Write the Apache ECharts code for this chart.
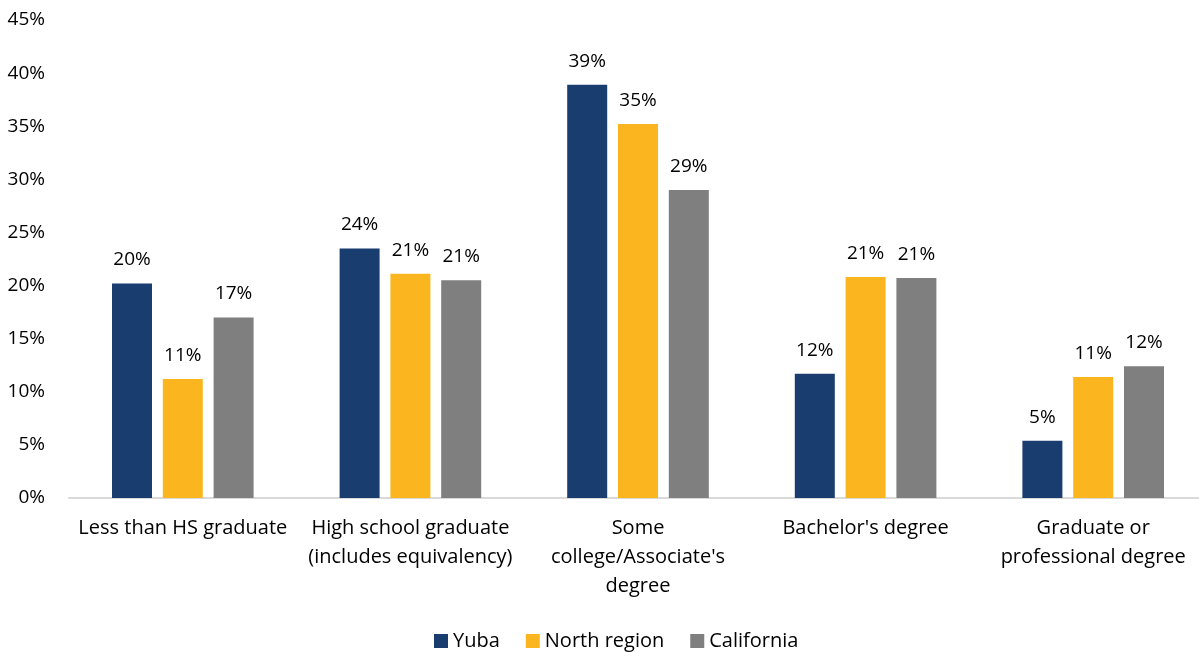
<!DOCTYPE html>
<html><head><meta charset="utf-8">
<script src="https://cdn.jsdelivr.net/npm/echarts@6/dist/echarts.min.js"></script>
<style>html,body{margin:0;padding:0;background:#fff;overflow:hidden}#c{width:1207px;height:652px}</style>
</head><body><div id="c"></div>
<script>
const categories = ["Less than HS graduate", "High school graduate\n(includes equivalency)", "Some\ncollege/Associate's\ndegree", "Bachelor's degree", "Graduate or\nprofessional degree"];
const yuba = [20.2, 23.5, 38.9, 11.7, 5.4];
const northRegion = [11.2, 21.1, 35.2, 20.8, 11.4];
const california = [17.0, 20.5, 29.0, 20.7, 12.4];
const seriesNames = ["Yuba", "North region", "California"];
const colors = ["#183d6e", "#fbb61f", "#7f7f7f"];
const FONT = "Open Sans";
const chart = echarts.init(document.getElementById('c'));
const label = {show: true, position: 'top', distance: 14, color: '#000', fontFamily: FONT, fontSize: 19,
  formatter: p => Math.round(p.value) + '%'};
chart.setOption({
  animation: false,
  textStyle: {fontFamily: FONT},
  grid: {left: 69, right: 0, top: 20, bottom: 154, containLabel: false},
  legend: {top: 626, left: 429, itemWidth: 14, itemHeight: 14, itemGap: 26,
    icon: 'rect', textStyle: {fontFamily: FONT, fontSize: 20, color: '#000'}, data: seriesNames},
  xAxis: {type: 'category', data: categories,
    axisLine: {lineStyle: {color: '#d9d9d9', width: 2}}, axisTick: {show: false},
    axisLabel: {color: '#000', fontFamily: FONT, fontSize: 20, lineHeight: 29, margin: 16, interval: 0}},
  yAxis: {type: 'value', min: 0, max: 45, interval: 5,
    axisLine: {show: false}, axisTick: {show: false}, splitLine: {show: false},
    axisLabel: {color: '#000', fontFamily: FONT, fontSize: 19, margin: 24, formatter: v => v + '%'}},
  series: [
    {name: seriesNames[0], type: 'bar', data: yuba, itemStyle: {color: colors[0]}, label, barWidth: 40, barGap: '27%', barCategoryGap: '37%'},
    {name: seriesNames[1], type: 'bar', data: northRegion, itemStyle: {color: colors[1]}, label, barWidth: 40, barGap: '27%'},
    {name: seriesNames[2], type: 'bar', data: california, itemStyle: {color: colors[2]}, label, barWidth: 40, barGap: '27%'}
  ]
});
</script></body></html>
